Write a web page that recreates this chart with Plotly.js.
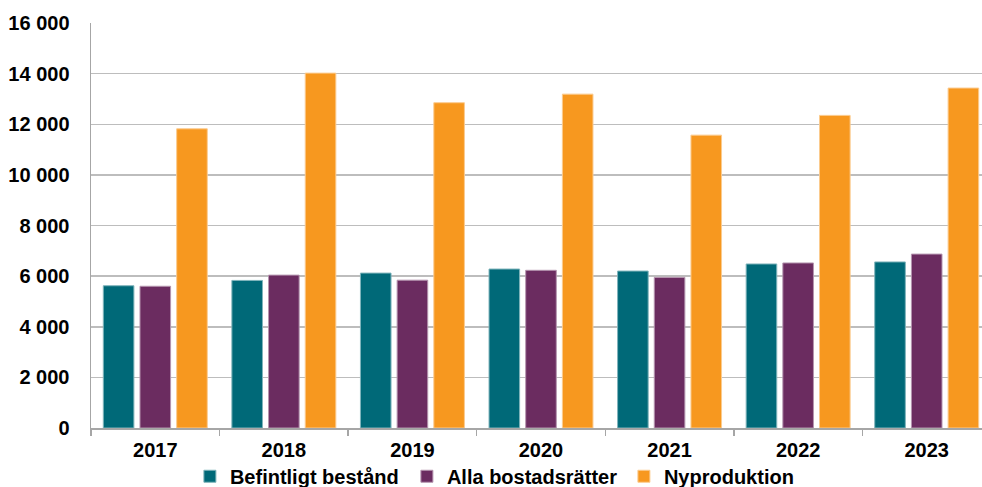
<!DOCTYPE html>
<html>
<head>
<meta charset="utf-8">
<script src="https://cdn.plot.ly/plotly-3.0.1.min.js"></script>
<style>
  html, body { margin: 0; padding: 0; background: #ffffff; }
  #chart { width: 982px; height: 487px; }
</style>
</head>
<body>
<div id="chart"></div>
<script>
// Years on the category axis
const years = ['2017', '2018', '2019', '2020', '2021', '2022', '2023'];

// Series values
const befintligtBestand = [5620, 5830, 6120, 6280, 6200, 6480, 6560];
const allaBostadsratter = [5600, 6040, 5840, 6230, 5950, 6520, 6870];
const nyproduktion = [11820, 14020, 12850, 13190, 11570, 12350, 13430];

// Value-axis ticks
const yTickVals = [0, 2000, 4000, 6000, 8000, 10000, 12000, 14000, 16000];
const yTickText = ['0', '2 000', '4 000', '6 000', '8 000', '10 000', '12 000', '14 000', '16 000'];

const seriesNames = ['Befintligt bestånd', 'Alla bostadsrätter', 'Nyproduktion'];
const seriesColors = ['#006978', '#6B2C60', '#F7981F'];
const edgeColors = ['#7FB4BB', '#B595AF', '#FBCB8F'];

const font = { family: 'Liberation Sans, Arial, sans-serif', color: '#000000' };

const traces = [befintligtBestand, allaBostadsratter, nyproduktion].map((vals, i) => ({
  type: 'bar',
  name: seriesNames[i],
  x: years,
  y: vals,
  marker: { color: seriesColors[i], line: { color: edgeColors[i], width: 1 } },
  hoverinfo: 'x+y+name'
}));

const layout = {
  width: 982,
  height: 487,
  margin: { l: 91, r: 0, t: 23, b: 59, autoexpand: false },
  paper_bgcolor: '#ffffff',
  plot_bgcolor: '#ffffff',
  barmode: 'group',
  bargap: 0.144,
  bargroupgap: 0.166,
  showlegend: true,
  legend: {
    orientation: 'h',
    x: 0.111,
    xanchor: 'left',
    y: -0.071,
    yanchor: 'top',
    bgcolor: 'rgba(0,0,0,0)',
    entrywidth: 172,
    entrywidthmode: 'pixels',
    font: Object.assign({}, font, { size: 20, weight: 'bold' }),
    itemclick: false,
    itemdoubleclick: false
  },
  xaxis: {
    type: 'category',
    range: [-0.5, 6.43],
    showline: true,
    linecolor: '#A6A6A6',
    linewidth: 1.5,
    ticks: 'outside',
    tickson: 'boundaries',
    ticklen: 6,
    tickcolor: '#A6A6A6',
    tickwidth: 1.5,
    showgrid: false,
    zeroline: false,
    ticklabelstandoff: 3,
    tickfont: Object.assign({}, font, { size: 20, weight: 'bold' })
  },
  yaxis: {
    range: [0, 16000],
    tickvals: yTickVals,
    ticktext: yTickText,
    showline: true,
    linecolor: '#A6A6A6',
    linewidth: 1.5,
    showgrid: true,
    gridcolor: '#BDBDBD',
    gridwidth: 1.5,
    zeroline: false,
    ticks: '',
    ticklabelstandoff: 16,
    tickfont: Object.assign({}, font, { size: 20, weight: 'bold' })
  }
};

Plotly.newPlot('chart', traces, layout, { staticPlot: true, displayModeBar: false });
</script>
</body>
</html>
